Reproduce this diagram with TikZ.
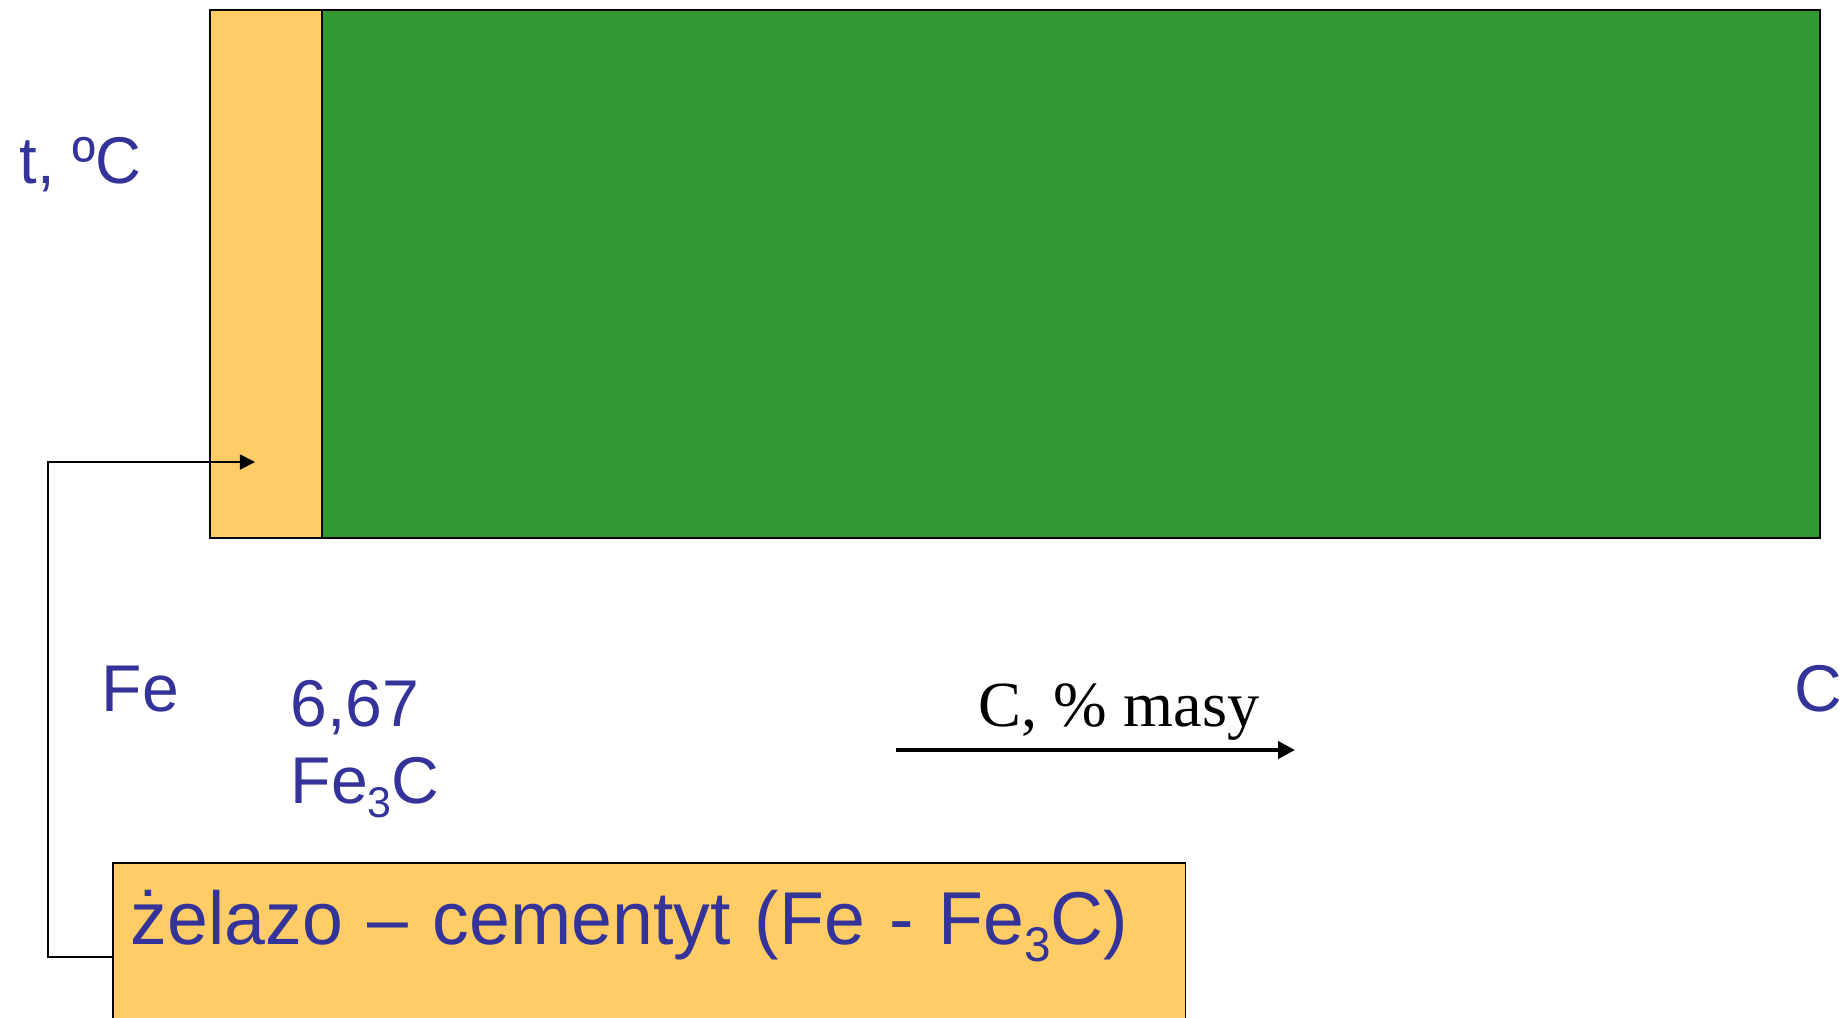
\documentclass[tikz,border=0pt]{standalone}
\usepackage{fontspec}
\setmainfont{Liberation Sans}
\newfontfamily\timesfont{Liberation Serif}
\usepackage{xcolor}
\usepackage{tikz}
\usetikzlibrary{arrows.meta, positioning}
\definecolor{fcblue}{HTML}{333399}
\definecolor{fcorange}{HTML}{FFCC66}
\definecolor{fcgreen}{HTML}{339933}
\newcommand\lowidx[1]{\raisebox{-0.22em}{\scalebox{0.65}{#1}}}

\begin{document}
\begin{tikzpicture}[x=0.01cm, y=-0.01cm,
  bluelbl/.style={font=\fontsize{18.8pt}{22pt}\selectfont, text=fcblue, inner sep=0pt, anchor=base west},
  phase/.style={draw=black, line width=0.5pt, anchor=north west, minimum height=5.28cm, inner sep=0pt}]
\useasboundingbox (0,0) rectangle (1843,1017);
\clip (0,0) rectangle (1843,1017);
% phase fields
\node[phase, fill=fcorange, minimum width=1.12cm] (cem) at (209,9) {};
\node[phase, fill=fcgreen, minimum width=14.97cm] (rest) at (321,9) {};
% axis labels
\node[bluelbl] (tlbl) at (19,183) {\scalebox{0.96}[1]{t, ºC}};
\node[bluelbl] (felbl) at (101,711) {Fe};
\node[bluelbl] (cpct) at (290,726) {6,67};
\node[bluelbl] (cemlbl) at (290,803) {Fe\lowidx{3}C};
\node[bluelbl] (clbl) at (1794,711) {C};
\node[font=\timesfont\fontsize{18.3pt}{22pt}\selectfont, inner sep=0pt, anchor=base west] (axlbl) at (978,726) {C, \% masy};
\coordinate (axs) at (896,750);
\coordinate (axe) at (1295,750);
\draw[line width=1.1pt, -{Triangle[length=4.8pt,width=4.8pt]}] (axs) -- (axe);
% name box
\node[draw=black, line width=0.5pt, fill=fcorange, anchor=north west, inner xsep=0.18cm, inner ysep=0pt,
  text width=10.36cm, align=left, text height=0.82cm, text depth=2cm,
  font=\fontsize{21.3pt}{25pt}\selectfont, text=fcblue] (lbl) at (112,862)
  {\scalebox{0.98}[1]{żelazo – cementyt (Fe - Fe\lowidx{3}C)}};
\coordinate (lblin) at (112,957);
\coordinate (elbow) at (48,957);
\coordinate (tip) at (255,462);
\draw[line width=0.5pt, -{Triangle[length=4.3pt,width=4.3pt]}] (lblin) -- (elbow) |- (tip);
\end{tikzpicture}
\end{document}
